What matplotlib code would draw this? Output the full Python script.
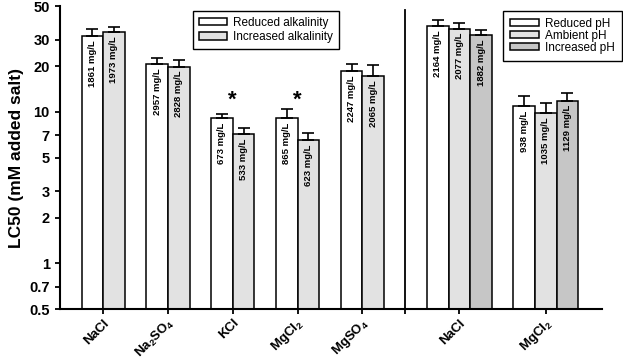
import matplotlib
matplotlib.use("Agg")
import matplotlib.pyplot as plt
import matplotlib.transforms as mtransforms
import numpy as np

plt.rcParams['font.family'] = ['Liberation Sans', 'DejaVu Sans']
plt.rcParams['mathtext.fontset'] = 'custom'
plt.rcParams['mathtext.rm'] = 'Liberation Sans:bold'
plt.rcParams['mathtext.bf'] = 'Liberation Sans:bold'
plt.rcParams['mathtext.it'] = 'Liberation Sans:bold'
plt.rcParams['mathtext.default'] = 'bf'

# Alkalinity experiment
alk_salts = ['NaCl', 'Na$_2$SO$_4$', 'KCl', 'MgCl$_2$', 'MgSO$_4$']
alk_reduced = [31.8, 20.8, 9.07, 9.1, 18.6]
alk_reduced_err = [3.3, 2.0, 0.57, 1.3, 2.3]
alk_increased = [33.7, 19.9, 7.14, 6.52, 17.2]
alk_increased_err = [2.8, 2.0, 0.73, 0.77, 3.1]
alk_reduced_lbl = ['1861 mg/L', '2957 mg/L', '673 mg/L', '865 mg/L', '2247 mg/L']
alk_increased_lbl = ['1973 mg/L', '2828 mg/L', '533 mg/L', '623 mg/L', '2065 mg/L']
alk_signif = [False, False, True, True, False]

# pH experiment
ph_salts = ['NaCl', 'MgCl$_2$']
ph_reduced = [36.9, 10.9]
ph_reduced_err = [3.5, 1.9]
ph_ambient = [35.4, 9.8]
ph_ambient_err = [3.4, 1.6]
ph_increased = [32.0, 11.9]
ph_increased_err = [2.7, 1.4]
ph_reduced_lbl = ['2164 mg/L', '938 mg/L']
ph_ambient_lbl = ['2077 mg/L', '1035 mg/L']
ph_increased_lbl = ['1882 mg/L', '1129 mg/L']

yticks = [0.5, 0.7, 1, 2, 3, 5, 7, 10, 20, 30, 50]
ytick_labels = ['0.5', '0.7', '1', '2', '3', '5', '7', '10', '20', '30', '50']

C_WHITE = '#ffffff'
C_LIGHT = '#e2e2e2'
C_DARK = '#c6c6c6'

fig = plt.figure(figsize=(6.23, 3.61), dpi=100)
ax = fig.add_axes([0.0963, 0.144, 0.870, 0.839])
ax.set_yscale('log')

bw = 1.0
alk_centers = np.arange(len(alk_salts)) * 3.0
ph_centers = np.array([16.5, 20.5])
divider_x = 14.0

ekw = dict(elinewidth=1.2, capthick=1.2, ecolor='black')
bar_kw = dict(edgecolor='black', linewidth=1.1, width=bw, bottom=0.5)


def bars(xs, vals, errs, color, label, lbls):
    heights = [v - 0.5 for v in vals]
    b = ax.bar(xs, heights, color=color, label=label, **bar_kw)
    ax.errorbar(xs, vals, yerr=[np.zeros(len(vals)), errs], fmt='none',
                capsize=4.5, **ekw)
    for x, v, t in zip(xs, vals, lbls):
        ax.annotate(t, (x, v), xytext=(0, -3), textcoords='offset points',
                    rotation=90, ha='center', va='top', fontsize=6.8,
                    fontweight='bold')
    return b


b1 = bars(alk_centers - 0.5, alk_reduced, alk_reduced_err, C_WHITE,
          'Reduced alkalinity', alk_reduced_lbl)
b2 = bars(alk_centers + 0.5, alk_increased, alk_increased_err, C_LIGHT,
          'Increased alkalinity', alk_increased_lbl)
b3 = bars(ph_centers - 1, ph_reduced, ph_reduced_err, C_WHITE,
          'Reduced pH', ph_reduced_lbl)
b4 = bars(ph_centers, ph_ambient, ph_ambient_err, C_LIGHT,
          'Ambient pH', ph_ambient_lbl)
b5 = bars(ph_centers + 1, ph_increased, ph_increased_err, C_DARK,
          'Increased pH', ph_increased_lbl)

for c, s in zip(alk_centers, alk_signif):
    if s:
        ax.text(c, 12.0, '*', ha='center', va='center', fontsize=16,
                fontweight='bold')

ax.plot([divider_x, divider_x], [0.5, 47], color='black', lw=1.3,
        clip_on=False)

ax.set_ylim(0.5, 50)
ax.set_xlim(-2, 23.1)
ax.set_yticks(yticks)
ax.set_yticklabels(ytick_labels, fontsize=10.5, fontweight='bold')
ax.yaxis.set_minor_locator(matplotlib.ticker.NullLocator())

xt = list(alk_centers) + [divider_x] + list(ph_centers)
xl = alk_salts + [''] + ph_salts
ax.set_xticks(xt)
ax.set_xticklabels(xl, rotation=45, ha='right', va='center',
                   rotation_mode='anchor', fontsize=9.5, fontweight='bold')
ax.tick_params(axis='both', direction='out', length=3.8, width=1.3)
ax.tick_params(axis='x', pad=5.0)
shift = mtransforms.ScaledTranslation(4 / 100, 0, fig.dpi_scale_trans)
for lab in ax.get_xticklabels():
    lab.set_transform(lab.get_transform() + shift)

for sp in ['top', 'right']:
    ax.spines[sp].set_visible(False)
for sp in ['left', 'bottom']:
    ax.spines[sp].set_linewidth(1.5)

ax.set_ylabel('LC50 (mM added salt)', fontsize=12.5, fontweight='bold',
              labelpad=4)

leg_kw = dict(frameon=True, fancybox=False, edgecolor='black', fontsize=8.5,
              handlelength=2.4, handleheight=0.6, handletextpad=0.5,
              framealpha=1, borderaxespad=0)
leg1 = ax.legend(handles=[b1, b2], loc='upper left',
                 bbox_to_anchor=(0.245, 0.985), borderpad=0.5,
                 labelspacing=0.2, **leg_kw)
leg1.get_frame().set_linewidth(1.0)
ax.add_artist(leg1)
leg2 = ax.legend(handles=[b3, b4, b5], loc='upper right',
                 bbox_to_anchor=(1.036, 0.985), borderpad=0.6,
                 labelspacing=0.0, **leg_kw)
leg2.get_frame().set_linewidth(1.0)

fig.savefig('out.png', dpi=100)
